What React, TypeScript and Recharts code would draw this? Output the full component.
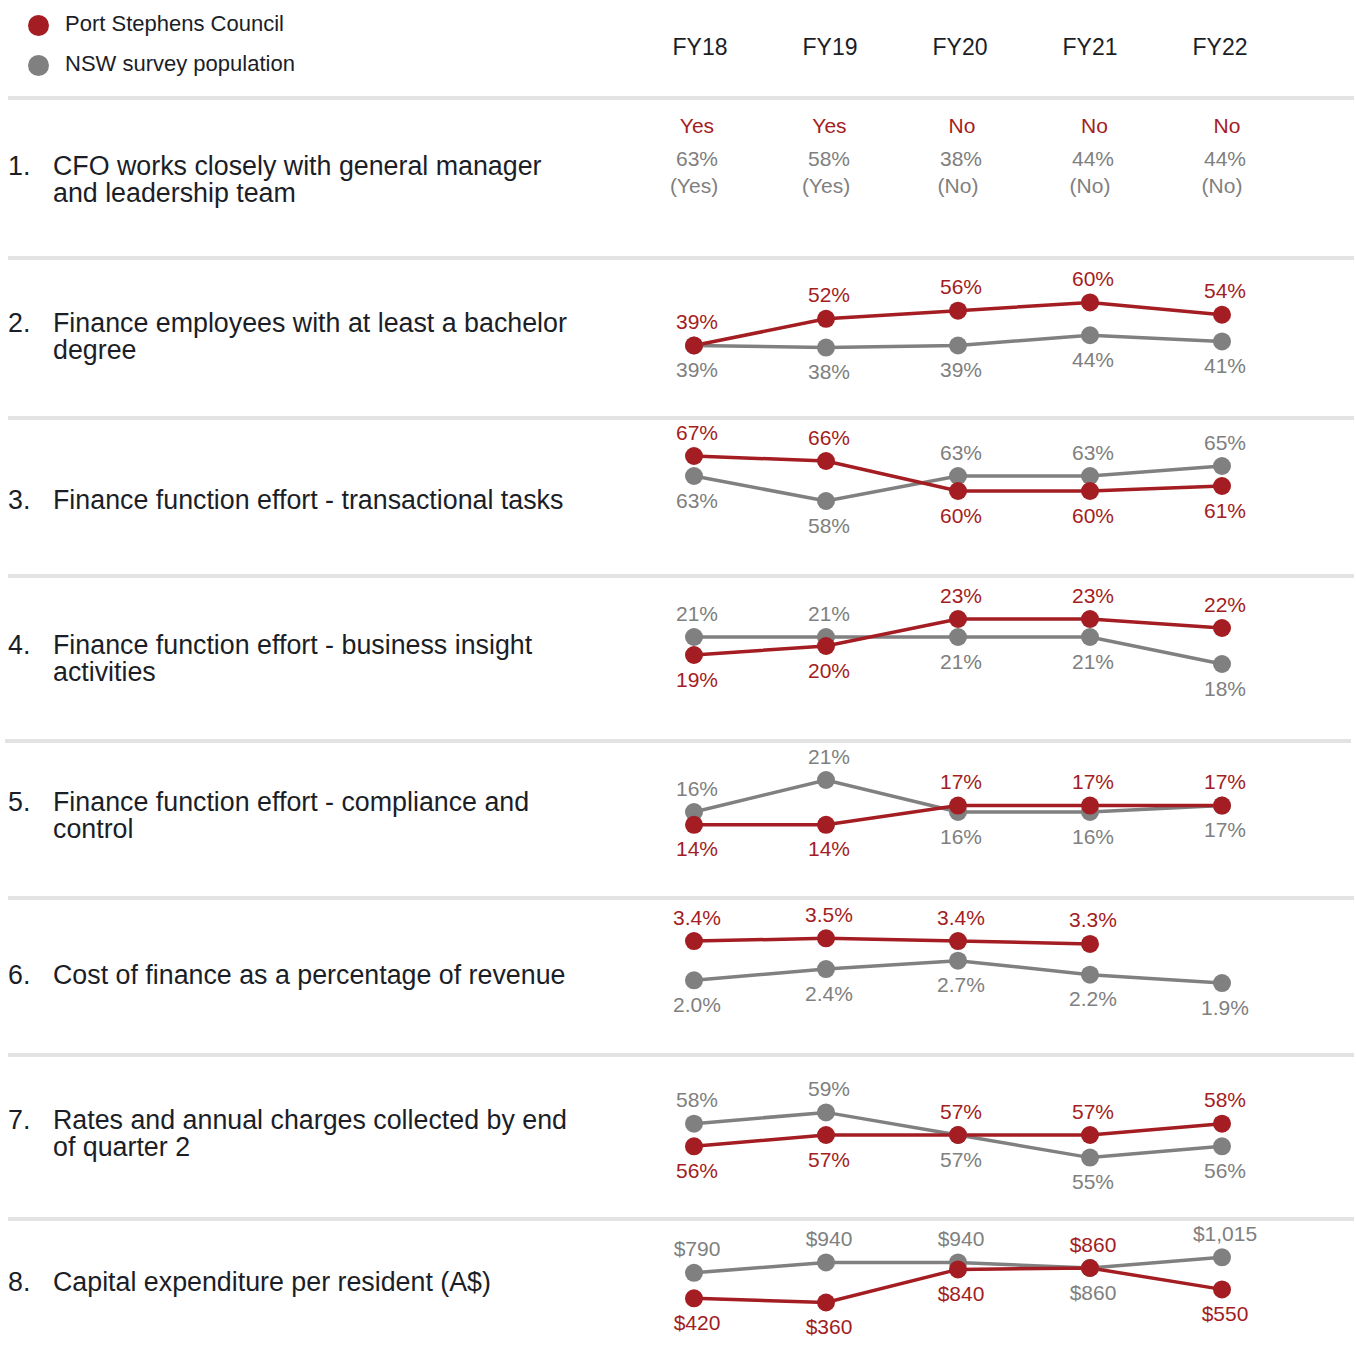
import React from "react";
import { LineChart, Line, XAxis, YAxis, LabelList } from "recharts";

// data
const years = ["FY18", "FY19", "FY20", "FY21", "FY22"];

const cfoCouncil = ["Yes", "Yes", "No", "No", "No"];
const cfoNswShare = ["63%", "58%", "38%", "44%", "44%"];
const cfoNswAnswer = ["(Yes)", "(Yes)", "(No)", "(No)", "(No)"];

const degreeCouncil = [39, 52, 56, 60, 54];
const degreeNsw = [39, 38, 39, 44, 41];
const transactionalCouncil = [67, 66, 60, 60, 61];
const transactionalNsw = [63, 58, 63, 63, 65];
const insightCouncil = [19, 20, 23, 23, 22];
const insightNsw = [21, 21, 21, 21, 18];
const complianceCouncil = [14, 14, 17, 17, 17];
const complianceNsw = [16, 21, 16, 16, 17];
const costCouncil = [3.4, 3.5, 3.4, 3.3, null];
const costNsw = [2.0, 2.4, 2.7, 2.2, 1.9];
const ratesCouncil = [56, 57, 57, 57, 58];
const ratesNsw = [58, 59, 57, 55, 56];
const capexCouncil = [420, 360, 840, 860, 550];
const capexNsw = [790, 940, 940, 860, 1015];

// look
const RED = "#a31d22";
const GREY = "#808080";
const INK = "#1b1e27";
const RULE = "#e3e3e3";
const FONT = "'Liberation Sans', Arial, Helvetica, sans-serif";

const CHART_LEFT = 594;
const CHART_W = 728;
const PAD = 100;
const COL_STEP = 132;
const colX = (i: number) => CHART_LEFT + PAD + i * COL_STEP;

const pct = (v: number) => `${v}%`;
const pct1 = (v: number) => `${v.toFixed(1)}%`;
const dollars = (v: number) => `$${v.toLocaleString("en-US")}`;

type Pos = "T" | "B";

interface RowDef {
  num: string;
  title: string[];
  titleTop: number;
  council: (number | null)[];
  nsw: number[];
  fmt: (v: number) => string;
  councilPos: Pos[];
  nswPos: Pos[];
  top: number;
  bottom: number;
  anchor: [number, number]; // value, pixel y
  scale: number; // px per unit
}

const rows: RowDef[] = [
  {
    num: "2.", title: ["Finance employees with at least a bachelor", "degree"], titleTop: 310,
    council: degreeCouncil, nsw: degreeNsw, fmt: pct,
    councilPos: ["T", "T", "T", "T", "T"], nswPos: ["B", "B", "B", "B", "B"],
    top: 260, bottom: 416, anchor: [39, 345.5], scale: 2.05,
  },
  {
    num: "3.", title: ["Finance function effort - transactional tasks"], titleTop: 487,
    council: transactionalCouncil, nsw: transactionalNsw, fmt: pct,
    councilPos: ["T", "T", "B", "B", "B"], nswPos: ["B", "B", "T", "T", "T"],
    top: 420, bottom: 574, anchor: [67, 456], scale: 5,
  },
  {
    num: "4.", title: ["Finance function effort - business insight", "activities"], titleTop: 632,
    council: insightCouncil, nsw: insightNsw, fmt: pct,
    councilPos: ["B", "B", "T", "T", "T"], nswPos: ["T", "T", "B", "B", "B"],
    top: 578, bottom: 739, anchor: [21, 637], scale: 9,
  },
  {
    num: "5.", title: ["Finance function effort - compliance and", "control"], titleTop: 789,
    council: complianceCouncil, nsw: complianceNsw, fmt: pct,
    councilPos: ["B", "B", "T", "T", "T"], nswPos: ["T", "T", "B", "B", "B"],
    top: 743, bottom: 896, anchor: [16, 812], scale: 6.4,
  },
  {
    num: "6.", title: ["Cost of finance as a percentage of revenue"], titleTop: 962,
    council: costCouncil, nsw: costNsw, fmt: pct1,
    councilPos: ["T", "T", "T", "T", "T"], nswPos: ["B", "B", "B", "B", "B"],
    top: 900, bottom: 1053, anchor: [3, 952.3], scale: 28,
  },
  {
    num: "7.", title: ["Rates and annual charges collected by end", "of quarter 2"], titleTop: 1107,
    council: ratesCouncil, nsw: ratesNsw, fmt: pct,
    councilPos: ["B", "B", "T", "T", "T"], nswPos: ["T", "T", "B", "B", "B"],
    top: 1057, bottom: 1217, anchor: [57, 1135], scale: 11.3,
  },
  {
    num: "8.", title: ["Capital expenditure per resident (A$)"], titleTop: 1269,
    council: capexCouncil, nsw: capexNsw, fmt: dollars,
    councilPos: ["B", "B", "B", "T", "B"], nswPos: ["T", "T", "T", "B", "T"],
    top: 1221, bottom: 1371, anchor: [860, 1268], scale: 0.069,
  },
];

const rules = [
  { y: 96, x: 8 }, { y: 256, x: 8 }, { y: 416, x: 8 }, { y: 574, x: 8 },
  { y: 739, x: 5 }, { y: 896, x: 8 }, { y: 1053, x: 8 }, { y: 1217, x: 8 },
];

function PointLabel(props: any) {
  const { value, index, pos, color, fmt } = props;
  const x = props.x ?? props.viewBox?.x;
  const y = props.y ?? props.viewBox?.y;
  if (value == null || x == null || y == null) return null;
  const above = pos[index] === "T";
  return (
    <text
      x={x + 3}
      y={above ? y - 24 : y + 24}
      textAnchor="middle"
      dominantBaseline="central"
      fill={color}
      fontSize={21}
      fontFamily={FONT}
    >
      {fmt(Number(value))}
    </text>
  );
}

function RowChart({ row }: { row: RowDef }) {
  const height = row.bottom - row.top;
  const [v0, y0] = row.anchor;
  const hi = v0 + (y0 - row.top) / row.scale;
  const lo = v0 - (row.bottom - y0) / row.scale;
  const data = years.map((year, i) => ({ year, i, council: row.council[i], nsw: row.nsw[i] }));

  return (
    <div style={{ position: "absolute", left: CHART_LEFT, top: row.top }}>
      <LineChart width={CHART_W} height={height} data={data} margin={{ top: 0, right: PAD, bottom: 0, left: PAD }}>
        <XAxis type="number" dataKey="i" domain={[0, 4]} hide />
        <YAxis type="number" domain={[lo, hi]} hide />
        <Line
          dataKey="nsw"
          stroke={GREY}
          strokeWidth={3.5}
          dot={{ r: 9, fill: GREY, stroke: "none" }}
          activeDot={false}
          isAnimationActive={false}
        >
          <LabelList
            dataKey="nsw"
            content={(p: any) => <PointLabel {...p} pos={row.nswPos} color={GREY} fmt={row.fmt} />}
          />
        </Line>
        <Line
          dataKey="council"
          stroke={RED}
          strokeWidth={3.5}
          dot={{ r: 9, fill: RED, stroke: "none" }}
          activeDot={false}
          isAnimationActive={false}
        >
          <LabelList
            dataKey="council"
            content={(p: any) => <PointLabel {...p} pos={row.councilPos} color={RED} fmt={row.fmt} />}
          />
        </Line>
      </LineChart>
    </div>
  );
}

function RowTitle({ num, lines, top }: { num: string; lines: string[]; top: number }) {
  return (
    <div style={{ position: "absolute", left: 8, top, display: "flex", fontSize: 26.8, lineHeight: "27px", color: INK }}>
      <div style={{ width: 45 }}>{num}</div>
      <div>
        {lines.map((l) => (
          <div key={l}>{l}</div>
        ))}
      </div>
    </div>
  );
}

function Centered({ x, y, color, size, children }: any) {
  return (
    <div
      style={{
        position: "absolute",
        left: x - 60,
        width: 120,
        top: y - 14,
        height: 28,
        lineHeight: "28px",
        textAlign: "center",
        color,
        fontSize: size,
      }}
    >
      {children}
    </div>
  );
}

export default function App() {
  return (
    <div
      style={{
        position: "absolute",
        left: 0,
        top: 0,
        width: 1356,
        height: 1371,
        overflow: "hidden",
        background: "#fff",
        fontFamily: FONT,
      }}
    >
      {/* legend */}
      <div style={{ position: "absolute", left: 28, top: 15, width: 21, height: 21, borderRadius: "50%", background: RED }} />
      <div style={{ position: "absolute", left: 65, top: 10, fontSize: 22, lineHeight: "28px", color: INK }}>
        Port Stephens Council
      </div>
      <div style={{ position: "absolute", left: 28, top: 55, width: 21, height: 21, borderRadius: "50%", background: GREY }} />
      <div style={{ position: "absolute", left: 65, top: 50, fontSize: 22, lineHeight: "28px", color: INK }}>
        NSW survey population
      </div>

      {/* year headers */}
      {years.map((y, i) => (
        <Centered key={y} x={700 + i * 130} y={47} color={INK} size={23}>
          {y}
        </Centered>
      ))}

      {rules.map((r) => (
        <div key={r.y} style={{ position: "absolute", left: r.x, top: r.y, width: 1346, height: 4, background: RULE }} />
      ))}

      {/* row 1: text only */}
      <RowTitle num="1." lines={["CFO works closely with general manager", "and leadership team"]} top={153} />
      {years.map((y, i) => (
        <React.Fragment key={y}>
          <Centered x={colX(i) + 3 + i * 0.5} y={126} color={RED} size={21}>{cfoCouncil[i]}</Centered>
          <Centered x={colX(i) + 3} y={159} color={GREY} size={21}>{cfoNswShare[i]}</Centered>
          <Centered x={colX(i)} y={186} color={GREY} size={21}>{cfoNswAnswer[i]}</Centered>
        </React.Fragment>
      ))}

      {rows.map((r) => (
        <React.Fragment key={r.num}>
          <RowTitle num={r.num} lines={r.title} top={r.titleTop} />
          <RowChart row={r} />
        </React.Fragment>
      ))}
    </div>
  );
}
